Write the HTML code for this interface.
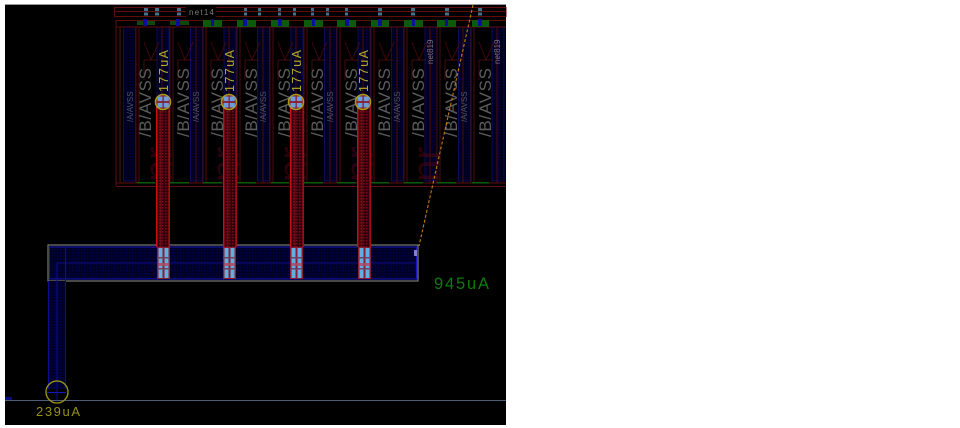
<!DOCTYPE html>
<html>
<head>
<meta charset="utf-8">
<style>
html,body{margin:0;padding:0;background:#fff;width:960px;height:428px;overflow:hidden}
svg{display:block}
text{font-family:"Liberation Sans",sans-serif}
</style>
</head>
<body>
<svg width="960" height="428" viewBox="0 0 960 428" xmlns="http://www.w3.org/2000/svg">
<defs>
<filter id="soft" x="0" y="0" width="100%" height="100%"><feGaussianBlur stdDeviation="0.3"/></filter>
<pattern id="bh" width="3" height="3" patternUnits="userSpaceOnUse"><rect width="3" height="3" fill="#010128"/><rect width="1.500" height="1.500" fill="#04044e"/></pattern>
<pattern id="bs" width="3" height="3" patternUnits="userSpaceOnUse"><rect width="3" height="3" fill="#01011c"/><rect width="1.500" height="1.500" fill="#05053c"/></pattern>
<pattern id="rh" width="3" height="3" patternUnits="userSpaceOnUse"><rect width="3" height="3" fill="#32040a"/><rect width="1.500" height="1.500" fill="#760a12"/></pattern>
<g id="stripe">
<rect x="0" y="100" width="14" height="147" fill="url(#rh)"/>
<rect x="0" y="100" width="1.500" height="147" fill="#d01018"/>
<rect x="4.500" y="100" width="1" height="147" fill="#800c14"/>
<rect x="12.500" y="100" width="1.500" height="147" fill="#a00e16"/>
</g>
<g id="via">
<rect x="0" y="247" width="13" height="32" fill="#8a1a30"/>
<rect x="1.500" y="248" width="4" height="30" fill="#62aede"/>
<rect x="7.500" y="248" width="4" height="30" fill="#62aede"/>
<rect x="0" y="257" width="13" height="1.500" fill="#704060"/>
<rect x="0" y="268" width="13" height="1.500" fill="#704060"/>
<rect x="1" y="263" width="11" height="3" fill="#b04860" opacity=".8"/>
</g>
<g id="circ">
<circle cx="0" cy="0" r="7.500" fill="#8a1a30" stroke="#a89a18" stroke-width="1.600"/>
<rect x="-5.500" y="-5.500" width="5" height="4.600" fill="#6c9ce0"/>
<rect x="0.800" y="-5.500" width="5" height="4.600" fill="#6c9ce0"/>
<rect x="-5.500" y="0.900" width="5" height="4.600" fill="#6c9ce0"/>
<rect x="0.800" y="0.900" width="5" height="4.600" fill="#6c9ce0"/>
</g>
<g id="cell" fill="none" stroke="#4c070d" stroke-width="1">
<path d="M0 27V183M26 27V183M3 27V183"/>
<path d="M8 42L15 60L23 42" stroke="#40070c"/>
<path d="M8 60H22M8 60V80" stroke="#40070c"/>
</g>
</defs>

<g filter="url(#soft)">
<rect x="5" y="4" width="501" height="421" fill="#000"/>
<rect x="5" y="4" width="501" height="1" fill="#999"/>

<!-- top rails -->
<g fill="none" stroke="#5e0810" stroke-width="1">
<rect x="114.500" y="7.500" width="392" height="9"/>
<path d="M114 11.500H506M116 20.500H506M116 186.500H506M116 20V186"/>
</g>
<rect x="186" y="6" width="30" height="11" fill="#000"/>
<text x="189" y="15" font-size="8" fill="#7c7c7c" textLength="25">net14</text>

<!-- blue strips -->
<g stroke="#0a0a58" stroke-width="1">
<rect x="123.500" y="27" width="12" height="154" fill="url(#bs)"/>
<rect x="157" y="27" width="12" height="154" fill="url(#bs)"/>
<rect x="190.500" y="27" width="12" height="154" fill="url(#bs)"/>
<rect x="224" y="27" width="12" height="154" fill="url(#bs)"/>
<rect x="257.500" y="27" width="12" height="154" fill="url(#bs)"/>
<rect x="291" y="27" width="12" height="154" fill="url(#bs)"/>
<rect x="324.500" y="27" width="12" height="154" fill="url(#bs)"/>
<rect x="358" y="27" width="12" height="154" fill="url(#bs)"/>
<rect x="391.500" y="27" width="12" height="154" fill="url(#bs)"/>
<rect x="425" y="27" width="12" height="154" fill="url(#bs)"/>
<rect x="458.500" y="27" width="12" height="154" fill="url(#bs)"/>
<rect x="492" y="27" width="12" height="154" fill="url(#bs)"/>
</g>

<!-- cell outlines -->
<use href="#cell" x="136"/><use href="#cell" x="170"/><use href="#cell" x="203"/><use href="#cell" x="237"/>
<use href="#cell" x="270"/><use href="#cell" x="304"/><use href="#cell" x="337"/><use href="#cell" x="371"/>
<use href="#cell" x="404"/><use href="#cell" x="437"/><use href="#cell" x="471"/>
<path d="M120 27V183M116 27H506M116 183H506" stroke="#5e0810" fill="none"/>

<!-- green pads top -->
<g fill="#0a5a0a">
<rect x="137" y="21" width="18" height="4" fill="#0c4a0c"/><rect x="170" y="21" width="19" height="4" fill="#0c4a0c"/>
<rect x="203" y="20" width="19" height="7"/><rect x="237" y="20" width="19" height="7"/>
<rect x="271" y="20" width="18" height="7"/><rect x="304" y="20" width="19" height="7"/>
<rect x="337" y="20" width="19" height="7"/><rect x="371" y="20" width="18" height="7"/>
<rect x="404" y="20" width="19" height="7"/><rect x="437" y="20" width="19" height="7"/>
<rect x="472" y="20" width="17" height="7"/>
</g>
<g fill="#10109a">
<rect x="143" y="19" width="4" height="7"/><rect x="176" y="19" width="4" height="7"/><rect x="211" y="19" width="3" height="7"/>
<rect x="243" y="19" width="4" height="7"/><rect x="278" y="19" width="4" height="7"/><rect x="312" y="19" width="3" height="7"/>
<rect x="345" y="19" width="4" height="7"/><rect x="378" y="19" width="4" height="7"/><rect x="412" y="19" width="3" height="7"/>
<rect x="445" y="19" width="3" height="7"/><rect x="478" y="19" width="4" height="7"/>
</g>
<!-- top vias -->
<g fill="#44708a">
<rect x="144" y="8" width="4" height="3"/><rect x="144" y="12.500" width="4" height="3"/>
<rect x="155" y="8" width="4" height="3"/><rect x="155" y="12.500" width="4" height="3"/>
<rect x="177" y="8" width="4" height="3"/><rect x="177" y="12.500" width="4" height="3"/>
<rect x="244" y="8" width="3" height="3"/><rect x="244" y="12.500" width="3" height="3"/>
<rect x="258" y="8" width="3" height="3"/><rect x="258" y="12.500" width="3" height="3"/>
<rect x="278" y="8" width="3" height="3"/><rect x="278" y="12.500" width="3" height="3"/>
<rect x="293" y="8" width="3" height="3"/><rect x="293" y="12.500" width="3" height="3"/>
<rect x="311" y="8" width="3" height="3"/><rect x="311" y="12.500" width="3" height="3"/>
<rect x="326" y="8" width="3" height="3"/><rect x="326" y="12.500" width="3" height="3"/>
<rect x="345" y="8" width="3" height="3"/><rect x="345" y="12.500" width="3" height="3"/>
<rect x="378" y="8" width="4" height="3"/><rect x="378" y="12.500" width="4" height="3"/>
<rect x="411" y="8" width="4" height="3"/><rect x="411" y="12.500" width="4" height="3"/>
<rect x="445" y="8" width="4" height="3"/><rect x="445" y="12.500" width="4" height="3"/>
<rect x="478" y="8" width="4" height="3"/><rect x="478" y="12.500" width="4" height="3"/>
</g>

<!-- bottom green lines -->
<g fill="#0b5a0b">
<rect x="137" y="182" width="18" height="1.500"/><rect x="170" y="182" width="19" height="1.500"/><rect x="203" y="182" width="19" height="1.500"/>
<rect x="237" y="182" width="19" height="1.500"/><rect x="271" y="182" width="18" height="1.500"/><rect x="304" y="182" width="19" height="1.500"/>
<rect x="337" y="182" width="19" height="1.500"/><rect x="371" y="182" width="18" height="1.500"/><rect x="404" y="182" width="19" height="1.500"/>
<rect x="437" y="182" width="19" height="1.500"/><rect x="472" y="182" width="17" height="1.500"/>
</g>

<!-- big faint labels -->
<g fill="#4a0a10" font-size="40" opacity=".6">
<text transform="translate(172,182) rotate(-90)">nr</text>
<text transform="translate(239,182) rotate(-90)">nr</text>
<text transform="translate(306,182) rotate(-90)">nr</text>
<text transform="translate(373,182) rotate(-90)">nr</text>
<text transform="translate(440,182) rotate(-90)">nr</text>
</g>

<!-- small labels -->
<g fill="#4c566c" font-size="8">
<text transform="translate(133,122) rotate(-90)">/A/AVSS</text>
<text transform="translate(199,122) rotate(-90)">/A/AVSS</text>
<text transform="translate(266,122) rotate(-90)">/A/AVSS</text>
<text transform="translate(333,122) rotate(-90)">/A/AVSS</text>
<text transform="translate(400,122) rotate(-90)">/A/AVSS</text>
<text transform="translate(467,122) rotate(-90)">/A/AVSS</text>
</g>
<g fill="#74748a" font-size="8">
<text transform="translate(433,64) rotate(-90)">net819</text>
<text transform="translate(500,64) rotate(-90)">net819</text>
</g>

<!-- /B/AVSS -->
<g fill="#5c5c5c" font-size="17">
<text transform="translate(151,137) rotate(-90)" textLength="69">/B/AVSS</text>
<text transform="translate(189,137) rotate(-90)" textLength="69">/B/AVSS</text>
<text transform="translate(223,137) rotate(-90)" textLength="69">/B/AVSS</text>
<text transform="translate(257,137) rotate(-90)" textLength="69">/B/AVSS</text>
<text transform="translate(290,137) rotate(-90)" textLength="69">/B/AVSS</text>
<text transform="translate(323,137) rotate(-90)" textLength="69">/B/AVSS</text>
<text transform="translate(357,137) rotate(-90)" textLength="69">/B/AVSS</text>
<text transform="translate(390,137) rotate(-90)" textLength="69">/B/AVSS</text>
<text transform="translate(424,137) rotate(-90)" textLength="69">/B/AVSS</text>
<text transform="translate(457,137) rotate(-90)" textLength="69">/B/AVSS</text>
<text transform="translate(491,137) rotate(-90)" textLength="69">/B/AVSS</text>
</g>

<!-- large horizontal bar -->
<rect x="48" y="245" width="370" height="36" fill="#000" stroke="#7a7a7a" stroke-width="1.200"/>
<rect x="49.500" y="247" width="367" height="32" fill="url(#bh)" stroke="#1212c0" stroke-width="1"/>
<path d="M57 263H416" stroke="#0c0c80" stroke-width="1"/>
<!-- vertical blue feeder -->
<rect x="48" y="281" width="18" height="108" fill="url(#bh)"/>
<path d="M48.500 281V389M65.500 247V389M57 263V400" stroke="#0e0e96" stroke-width="1" fill="none"/>

<!-- red stripes -->
<use href="#stripe" x="156"/><use href="#stripe" x="223"/><use href="#stripe" x="290"/><use href="#stripe" x="357"/>
<use href="#via" x="157"/><use href="#via" x="223"/><use href="#via" x="290"/><use href="#via" x="358"/>
<g><use href="#circ" x="163" y="102"/><use href="#circ" x="229" y="102"/><use href="#circ" x="296" y="102"/><use href="#circ" x="363" y="102"/></g>

<!-- 177uA -->
<g fill="#b4ac2c" font-size="12.500">
<text transform="translate(168,92) rotate(-90)" textLength="42">177uA</text>
<text transform="translate(234,92) rotate(-90)" textLength="42">177uA</text>
<text transform="translate(301,92) rotate(-90)" textLength="42">177uA</text>
<text transform="translate(368,92) rotate(-90)" textLength="42">177uA</text>
</g>

<!-- dashed diagonal -->
<path d="M473 5L419 246" stroke="#c87a10" stroke-width="1.100" stroke-dasharray="3 2" fill="none"/>
<rect x="414" y="250" width="3" height="6" fill="#8080d0"/>

<!-- labels -->
<text x="434" y="289" font-size="16.500" fill="#0c7a0c" textLength="55">945uA</text>

<!-- bottom -->
<rect x="5" y="400" width="501" height="1" fill="#4e5c78"/>
<rect x="5" y="397" width="7" height="3" fill="#10107a"/>
<circle cx="57" cy="392" r="11" fill="none" stroke="#a09a18" stroke-width="1.300"/>
<path d="M47 392.500H66" stroke="#1212c0"/>
<text x="36" y="416" font-size="13" fill="#98901c" textLength="44">239uA</text>
</g>
</svg>
</body>
</html>
